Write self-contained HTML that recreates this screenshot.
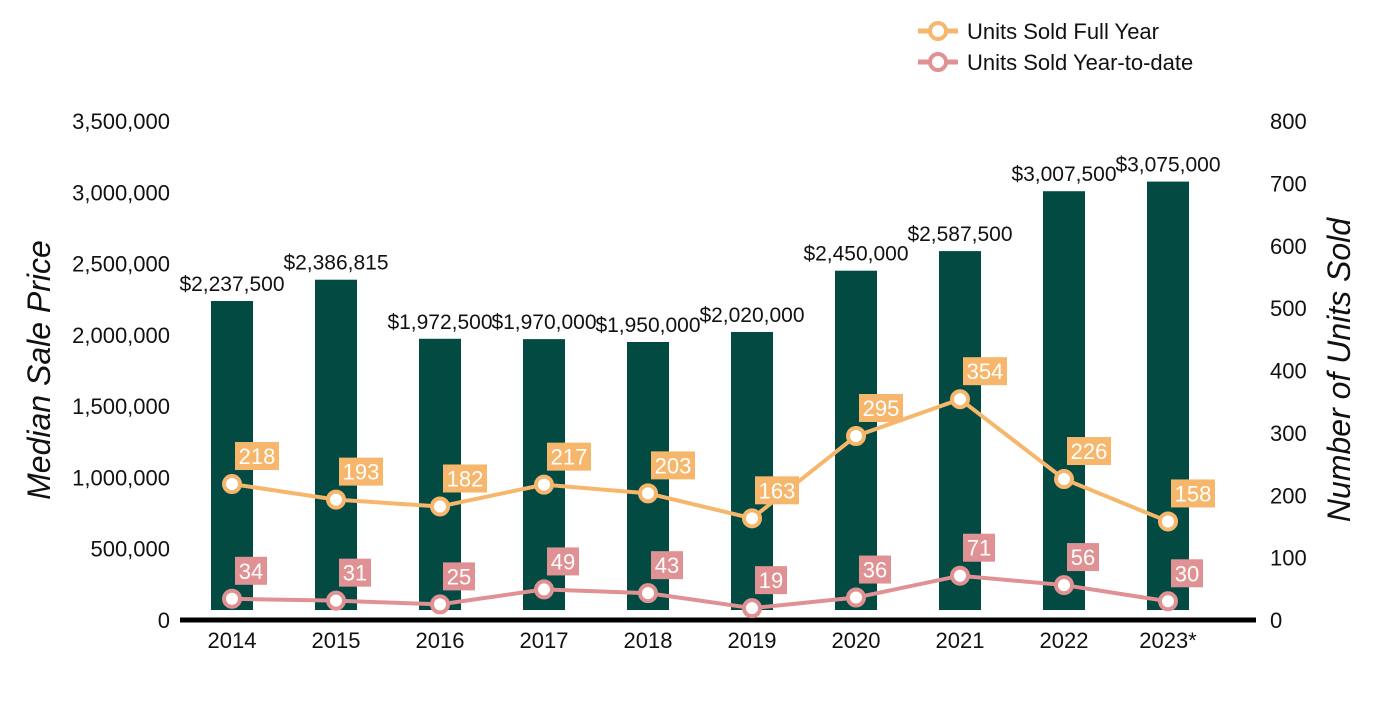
<!DOCTYPE html>
<html><head><meta charset="utf-8"><style>
body{margin:0;background:#fff;}
svg text{font-family:"Liberation Sans",Arial,sans-serif;}
</style></head><body>
<svg id="chart" width="1400" height="700" xmlns="http://www.w3.org/2000/svg"></svg>
<script>
const categories=["2014","2015","2016","2017","2018","2019","2020","2021","2022","2023*"];
const prices=[2237500,2386815,1972500,1970000,1950000,2020000,2450000,2587500,3007500,3075000];
const priceLabels=["$2,237,500","$2,386,815","$1,972,500","$1,970,000","$1,950,000","$2,020,000","$2,450,000","$2,587,500","$3,007,500","$3,075,000"];
const fullYear=[218,193,182,217,203,163,295,354,226,158];
const ytd=[34,31,25,49,43,19,36,71,56,30];
const leftTicks=[0,500000,1000000,1500000,2000000,2500000,3000000,3500000];
const rightTicks=[0,100,200,300,400,500,600,700,800];
const svg=document.getElementById('chart');
const NS='http://www.w3.org/2000/svg';
function mk(t,a,txt){const e=document.createElementNS(NS,t);for(const k in a)e.setAttribute(k,a[k]);if(txt!==undefined)e.textContent=txt;svg.appendChild(e);return e;}
const y0=620;
const yL=v=>y0-v/3500000*499;
const yR=v=>y0-v/800*499;
const xC=i=>232+i*104;
leftTicks.forEach(v=>{const t=mk('text',{x:170,y:yL(v)+8,'text-anchor':'end','font-size':22,fill:'#111'},v.toLocaleString('en-US'));

});
rightTicks.forEach(v=>{const t=mk('text',{x:1270,y:yR(v)+8,'font-size':22,fill:'#111'},String(v));

});
let t=mk('text',{transform:'translate(50,370) rotate(-90)','text-anchor':'middle','font-size':32,'font-style':'italic',fill:'#111'},'Median Sale Price');

t=mk('text',{transform:'translate(1350,370) rotate(-90)','text-anchor':'middle','font-size':32,'font-style':'italic',fill:'#111'},'Number of Units Sold');

prices.forEach((v,i)=>{
 const b=mk('rect',{x:xC(i)-21,y:yL(v),width:42,height:610-yL(v),fill:'#034a43'});
 
 
 const l=mk('text',{x:xC(i),y:yL(v)-10,'text-anchor':'middle','font-size':21,fill:'#111'},priceLabels[i]);
 
 
 const c=mk('text',{x:xC(i),y:648,'text-anchor':'middle','font-size':22,fill:'#111'},categories[i]);
 
 
});
const ax=mk('line',{x1:180,x2:1256,y1:620,y2:620,stroke:'#000','stroke-width':5});

function series(vals,color,name){
 const p=mk('polyline',{points:vals.map((v,i)=>xC(i)+','+yR(v)).join(' '),fill:'none',stroke:color,'stroke-width':4});
 
 
 vals.forEach((v,i)=>{
  const c=mk('circle',{cx:xC(i),cy:yR(v),r:8,fill:'#fff',stroke:color,'stroke-width':4});
  
  
  const w=String(v).length*12+8;
  const r=mk('rect',{x:xC(i)+3,y:yR(v)-42,width:w,height:28,fill:color});
  
  
  const tx=mk('text',{x:xC(i)+3+w/2,y:yR(v)-20,'text-anchor':'middle','font-size':22,fill:'#fff'},String(v));
  
  
 });
}
series(fullYear,'#f6b76c','full-year');
series(ytd,'#e09193','year-to-date');
[['Units Sold Full Year','#f6b76c',31],['Units Sold Year-to-date','#e09193',62]].forEach(([s,c,y])=>{
 const l=mk('line',{x1:918,x2:958,y1:y,y2:y,stroke:c,'stroke-width':5});
 
 const ci=mk('circle',{cx:938,cy:y,r:8,fill:'#fff',stroke:c,'stroke-width':4});
 
 const tt=mk('text',{x:967,y:y+8,'font-size':22,fill:'#111'},s);
 
});
</script>
</body></html>
